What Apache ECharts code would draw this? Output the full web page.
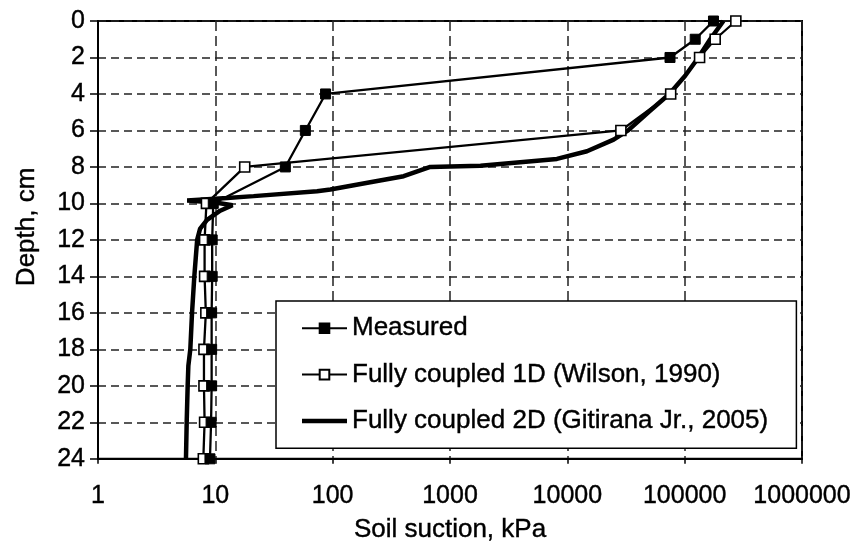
<!DOCTYPE html>
<html>
<head>
<meta charset="utf-8">
<script src="https://cdn.jsdelivr.net/npm/echarts@6/dist/echarts.min.js"></script>
<style>
html,body{margin:0;padding:0;background:#fff;}
#chart{width:858px;height:548px;}
</style>
</head>
<body>
<div id="chart"></div>
<script>
// ---- data ----
const seriesNames = ['Measured', 'Fully coupled 1D (Wilson, 1990)', 'Fully coupled 2D (Gitirana Jr., 2005)'];

const depthMeasured   = [0, 1, 2, 4, 6, 8, 10, 12, 14, 16, 18, 20, 22, 24];
const suctionMeasured = [176000, 123000, 75000, 87, 58.5, 39.5, 9.6, 9.4, 9.4, 9.3, 9.3, 9.3, 9.2, 9.0];

const depthWilson   = [0, 1, 2, 4, 6, 8, 10, 12, 14, 16, 18, 20, 22, 24];
const suctionWilson = [273000, 182000, 134000, 76000, 28600, 17.8, 8.4, 8.1, 8.1, 8.3, 8.0, 8.0, 8.1, 7.9];

const depthGitirana   = [0, 1, 2, 3, 4, 5, 6, 6.5, 7.14, 7.56, 7.93, 8.0, 8.51, 8.84, 9.24, 9.33, 9.6, 9.7, 9.84, 9.95, 10.1, 10.4, 10.9, 11.4, 12, 14, 16, 18, 18.9, 20, 22, 24];
const suctionGitirana = [214000, 165000, 131000, 101000, 74000, 49000, 33000, 24800, 14700, 8150, 1820, 679, 403, 209, 95.6, 73.6, 21.2, 12.6, 5.75, 10, 14, 11, 8.5, 7.4, 7.0, 6.62, 6.33, 6.12, 5.89, 5.81, 5.7, 5.62];

const xTickLabels = ['1', '10', '100', '1000', '10000', '100000', '1000000'];
const yTickLabels = ['0', '2', '4', '6', '8', '10', '12', '14', '16', '18', '20', '22', '24'];

const xTitle = 'Soil suction, kPa';
const yTitle = 'Depth, cm';

function pairs(xs, ys) { return xs.map((x, i) => [x, ys[i]]); }

const FONT = '"Liberation Sans", Arial, sans-serif';
const txt = (size) => ({fontSize: size, color: '#000', fontFamily: FONT, textBorderColor: '#000', textBorderWidth: 0.4});
const chart = echarts.init(document.getElementById('chart'), null, {renderer: 'canvas'});

chart.setOption({
  animation: false,
  backgroundColor: '#fff',
  textStyle: {fontFamily: FONT, color: '#000'},
  grid: {left: 98, right: 56, top: 21, bottom: 87, show: true, borderColor: '#000', borderWidth: 2, containLabel: false},
  xAxis: {
    type: 'log', logBase: 10, min: 1, max: 1000000, interval: 1,
    position: 'bottom',
    name: xTitle, nameLocation: 'middle', nameGap: 58,
    nameTextStyle: txt(26),
    axisLine: {show: true, onZero: false, lineStyle: {color: '#000', width: 2}},
    axisTick: {show: true, inside: false, length: 5, lineStyle: {color: '#000', width: 1.5}},
    axisLabel: Object.assign(txt(25), {
      margin: 25,
      formatter: function (v) { const k = Math.round(Math.log10(v)); return xTickLabels[k] !== undefined ? xTickLabels[k] : ''; }
    }),
    splitLine: {show: true, lineStyle: {color: '#222', width: 1.5, type: [10, 5]}},
    minorTick: {show: false}
  },
  yAxis: {
    type: 'value', inverse: true, min: 0, max: 24, interval: 2,
    name: yTitle, nameLocation: 'middle', nameGap: 58,
    nameTextStyle: Object.assign(txt(26), {padding: [0, 0, 0, 26]}),
    axisLine: {show: true, lineStyle: {color: '#000', width: 2}},
    axisTick: {show: true, inside: false, length: 8, lineStyle: {color: '#000', width: 1.5}},
    axisLabel: Object.assign(txt(25), {
      margin: 13,
      formatter: function (v) { const k = Math.round(v / 2); return yTickLabels[k] !== undefined ? yTickLabels[k] : ''; }
    }),
    splitLine: {show: true, lineStyle: {color: '#222', width: 1.5, type: [8, 5]}}
  },
  legend: {
    orient: 'vertical', left: 276, top: 301,
    padding: [14, 28, 14, 25],
    backgroundColor: '#fff', borderColor: '#000', borderWidth: 1.5, borderRadius: 0,
    itemWidth: 45, itemHeight: 12, itemGap: 20,
    textStyle: Object.assign(txt(26), {lineHeight: 26}),
    data: [
      {name: seriesNames[0]},
      {name: seriesNames[1]},
      {name: seriesNames[2], icon: 'path://M0,0 L45,0 L45,4.5 L0,4.5 Z', itemStyle: {color: '#000', borderWidth: 0}}
    ]
  },
  series: [
    {
      name: seriesNames[2], type: 'line', data: pairs(suctionGitirana, depthGitirana),
      showSymbol: false, symbol: 'none', smooth: false,
      lineStyle: {color: '#000', width: 4.5}, itemStyle: {color: '#000'}, z: 2
    },
    {
      name: seriesNames[1], type: 'line', data: pairs(suctionWilson, depthWilson),
      symbol: 'rect', symbolSize: 10,
      lineStyle: {color: '#000', width: 2.3}, itemStyle: {color: '#fff', borderColor: '#000', borderWidth: 1.6}, z: 3
    },
    {
      name: seriesNames[0], type: 'line', data: pairs(suctionMeasured, depthMeasured),
      symbol: 'rect', symbolSize: 10,
      lineStyle: {color: '#000', width: 2.3}, itemStyle: {color: '#000', borderColor: '#000', borderWidth: 1}, z: 4
    }
  ]
});
</script>
</body>
</html>
